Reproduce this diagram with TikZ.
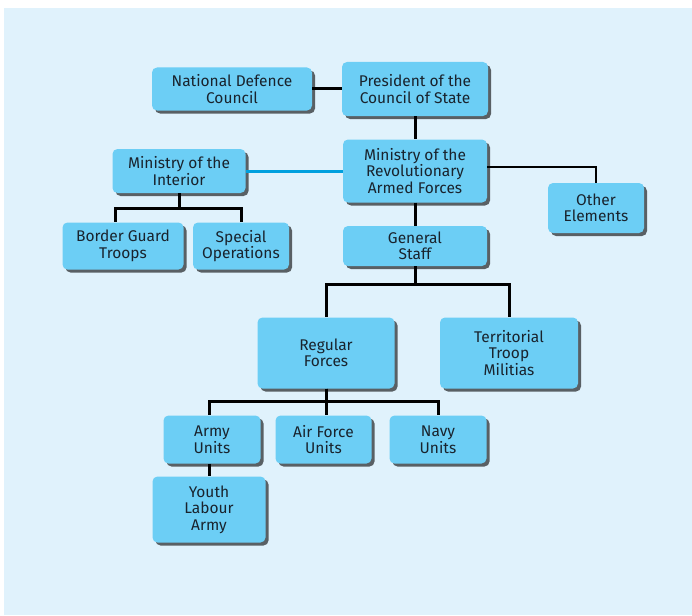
\documentclass[tikz,border=0pt]{standalone}
\usepackage{fontspec}
\setsansfont{Fira Sans}
\usepackage{tikz}
\usetikzlibrary{shadows}
\definecolor{sfondo}{RGB}{224,242,252}
\definecolor{azzurro}{RGB}{108,206,245}
\definecolor{ciano}{RGB}{0,160,222}
\definecolor{testo}{RGB}{25,35,45}
\tikzstyle{nodoazzurro} = [rectangle,rounded corners=5pt,inner sep=0pt,align=center,fill=azzurro,text=testo,drop shadow={shadow xshift=3pt,shadow yshift=-3pt,fill=black,opacity=0.6}]
\tikzstyle{linea} = [line width=3pt,black]
\tikzstyle{lineasottile} = [line width=1.4pt,black]

\begin{document}
\begin{tikzpicture}[x=1pt,y=-1pt]
\tikzstyle{every node}=[font=\sffamily\fontsize{15.5}{16.5}\selectfont]

\useasboundingbox (0,0) rectangle (692,615);
\fill[sfondo] (4,8) rectangle (692,615);

\node (PCS)  [nodoazzurro,minimum width=146pt,minimum height=54pt] at (415,89) {President of the\\Council of State};
\node (NDC)  [nodoazzurro,minimum width=160pt,minimum height=43pt,left of=PCS,node distance=183pt] {National Defence\\Council};
\node (MRAF) [nodoazzurro,minimum width=144pt,minimum height=63pt,below of=PCS,node distance=82pt] {Ministry of the\\Revolutionary\\Armed Forces};
\node (MOI)  [nodoazzurro,minimum width=133pt,minimum height=44pt,left of=MRAF,node distance=236pt] {Ministry of the\\Interior};
\node (BGT)  [nodoazzurro,minimum width=121pt,minimum height=47pt,below of=MOI,node distance=75pt,xshift=-56pt] {Border Guard\\Troops};
\node (SPEC) [nodoazzurro,minimum width=96pt,minimum height=47pt,below of=MOI,node distance=75pt,xshift=62pt] {Special\\Operations};
\node (OTH)  [nodoazzurro,minimum width=96pt,minimum height=50pt,right of=MRAF,node distance=181pt,yshift=-37pt] {Other\\Elements};
\node (GS)   [nodoazzurro,minimum width=144pt,minimum height=40pt,below of=MRAF,node distance=75pt] {General\\Staff};

\node (REG)  [nodoazzurro,minimum width=137pt,minimum height=71pt,below of=GS,node distance=107pt,xshift=-89pt] {Regular\\Forces};
\node (TTM)  [nodoazzurro,minimum width=138pt,minimum height=71pt,below of=GS,node distance=107pt,xshift=94pt] {Territorial\\Troop\\Militias};

\node (ARMY) [nodoazzurro,minimum width=97pt,minimum height=48pt,below of=REG,node distance=86.5pt,xshift=-114pt] {Army\\Units};
\node (AIR)  [nodoazzurro,minimum width=96pt,minimum height=48pt,below of=REG,node distance=86.5pt,xshift=-2.5pt] {Air Force\\Units};
\node (NAVY) [nodoazzurro,minimum width=97pt,minimum height=48pt,below of=REG,node distance=86.5pt,xshift=112pt] {Navy\\Units};
\node (YLA)  [nodoazzurro,minimum width=113pt,minimum height=66pt,below of=ARMY,node distance=70pt,xshift=-3pt] {Youth\\Labour\\Army};

% connettori
\draw[linea] (NDC) -- (PCS);
\draw[linea] (PCS) -- (MRAF);
\draw[linea,ciano] (MOI.east) -- (MRAF.west);
\draw[linea] (MRAF) -- (GS);
\draw[lineasottile] ([yshift=4pt]MRAF.east) -| (OTH.north);

\draw[linea] (MOI.south) -- ++(0,15) -| ([xshift=-8pt]BGT.north);
\draw[linea] (MOI.south) -- ++(0,15) -| (SPEC.north);

\draw[linea] (GS.south) -- ++(0,18) -| (REG.north);
\draw[linea] (GS.south) -- ++(0,18) -| (TTM.north);

\draw[linea] (REG.south) -- ++(0,13) -| ([xshift=-2.5pt]ARMY.north);
\draw[linea] (REG.south) -- ++(0,13) -| ([xshift=3pt]AIR.north);
\draw[linea] (REG.south) -- ++(0,13) -| (NAVY.north);

\draw[linea] (ARMY.south -| YLA.north) -- (YLA.north);
\end{tikzpicture}
\end{document}
